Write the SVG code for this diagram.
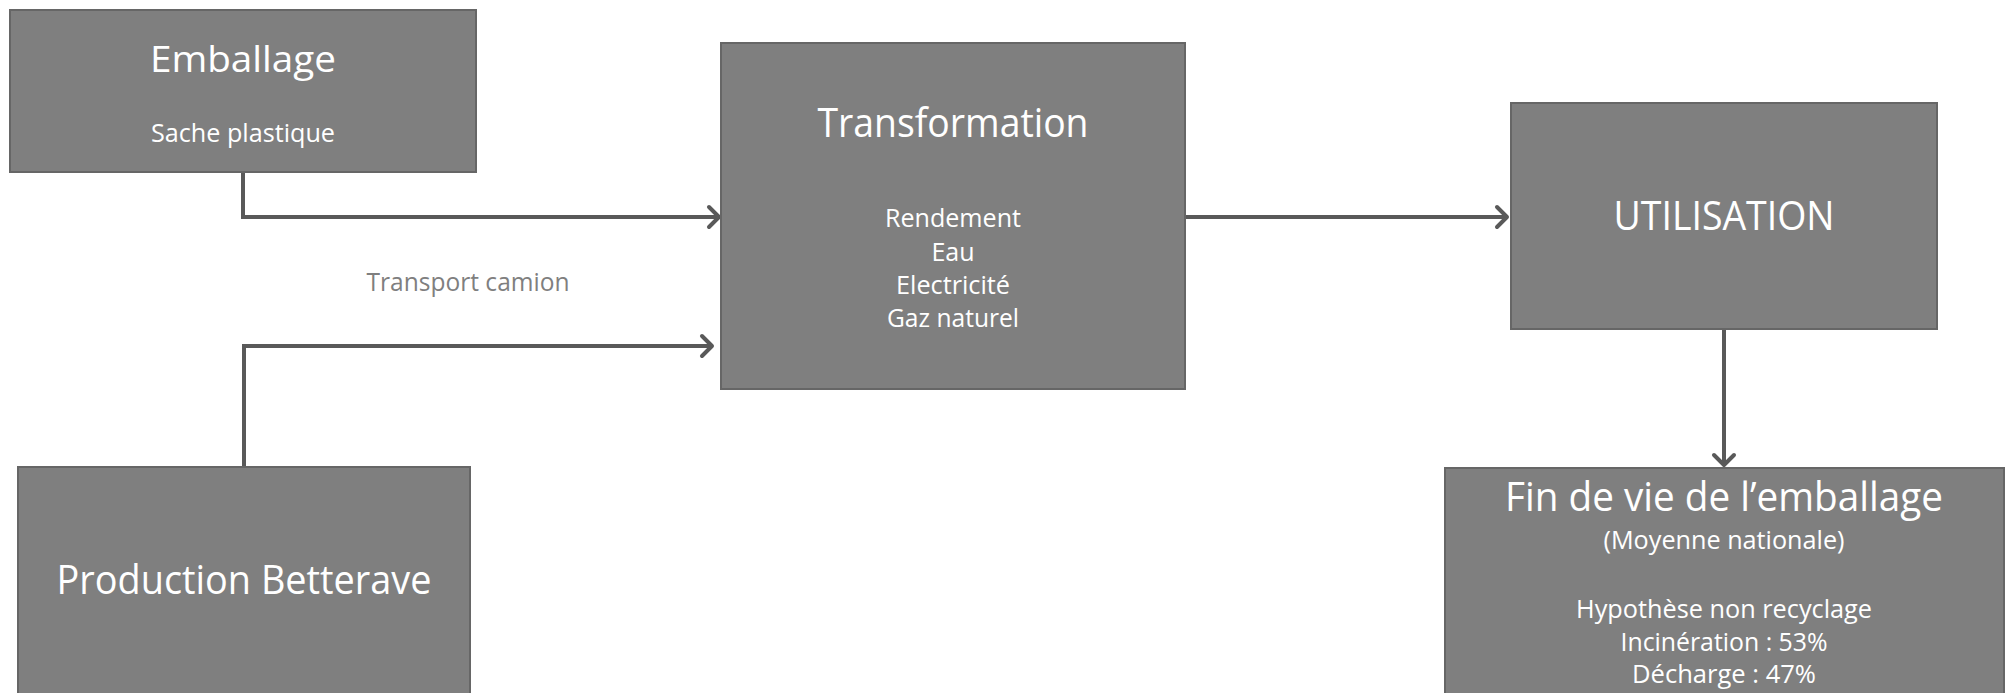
<svg xmlns="http://www.w3.org/2000/svg" width="2013" height="693" viewBox="0 0 2013 693">
<style>
.box{fill:#7f7f7f;stroke:#666666;stroke-width:2}
.t{font-family:"Open Sans","Liberation Sans",sans-serif;fill:#ffffff;text-anchor:middle}
.conn{fill:none;stroke:#595959;stroke-width:4}
.lbl{font-family:"Open Sans","Liberation Sans",sans-serif;fill:#7f7f7f;text-anchor:middle}
</style>
<defs>
<marker id="arr" markerUnits="userSpaceOnUse" markerWidth="16" markerHeight="26" refX="13" refY="13" orient="auto">
<path d="M3,3 L13,13 L3,23" fill="none" stroke="#595959" stroke-width="4" stroke-linecap="round" stroke-linejoin="round"/>
</marker>
</defs>
<rect width="2013" height="693" fill="#ffffff"/>
<g id="connectors">
<path class="conn" d="M243,172 V217 H719" marker-end="url(#arr)"/>
<path class="conn" d="M244,467 V346 H712" marker-end="url(#arr)"/>
<path class="conn" d="M1185,217 H1507" marker-end="url(#arr)"/>
<path class="conn" d="M1724,330 V465" marker-end="url(#arr)"/>
<text class="lbl" x="468" y="291" font-size="26" textLength="203" lengthAdjust="spacingAndGlyphs">Transport camion</text>
</g>
<g id="emballage">
<rect class="box" x="10" y="10" width="466" height="162"/>
<text class="t" x="243" y="72" font-size="37" textLength="186" lengthAdjust="spacingAndGlyphs">Emballage</text>
<text class="t" x="243" y="142" font-size="25" textLength="184" lengthAdjust="spacingAndGlyphs">Sache plastique</text>
</g>
<g id="production">
<rect class="box" x="18" y="467" width="452" height="240"/>
<text class="t" x="244" y="594" font-size="41" textLength="375" lengthAdjust="spacingAndGlyphs">Production Betterave</text>
</g>
<g id="transformation">
<rect class="box" x="721" y="43" width="464" height="346"/>
<text class="t" x="953" y="137" font-size="40" textLength="271" lengthAdjust="spacingAndGlyphs">Transformation</text>
<text class="t" x="953" y="227" font-size="25" textLength="136" lengthAdjust="spacingAndGlyphs">Rendement</text>
<text class="t" x="953" y="261" font-size="25">Eau</text>
<text class="t" x="953" y="294" font-size="25" textLength="114" lengthAdjust="spacingAndGlyphs">Electricité</text>
<text class="t" x="953" y="327" font-size="25" textLength="132" lengthAdjust="spacingAndGlyphs">Gaz naturel</text>
</g>
<g id="utilisation">
<rect class="box" x="1511" y="103" width="426" height="226"/>
<text class="t" x="1724" y="230" font-size="40" textLength="221" lengthAdjust="spacingAndGlyphs">UTILISATION</text>
</g>
<g id="findevie">
<rect class="box" x="1445" y="468" width="559" height="240"/>
<text class="t" x="1724" y="511" font-size="40" textLength="438" lengthAdjust="spacingAndGlyphs">Fin de vie de l’emballage</text>
<text class="t" x="1724" y="549" font-size="25" textLength="241" lengthAdjust="spacingAndGlyphs">(Moyenne nationale)</text>
<text class="t" x="1724" y="618" font-size="25" textLength="296" lengthAdjust="spacingAndGlyphs">Hypothèse non recyclage</text>
<text class="t" x="1724" y="651" font-size="25" textLength="207" lengthAdjust="spacingAndGlyphs">Incinération : 53%</text>
<text class="t" x="1724" y="683" font-size="25" textLength="184" lengthAdjust="spacingAndGlyphs">Décharge : 47%</text>
</g>
</svg>
